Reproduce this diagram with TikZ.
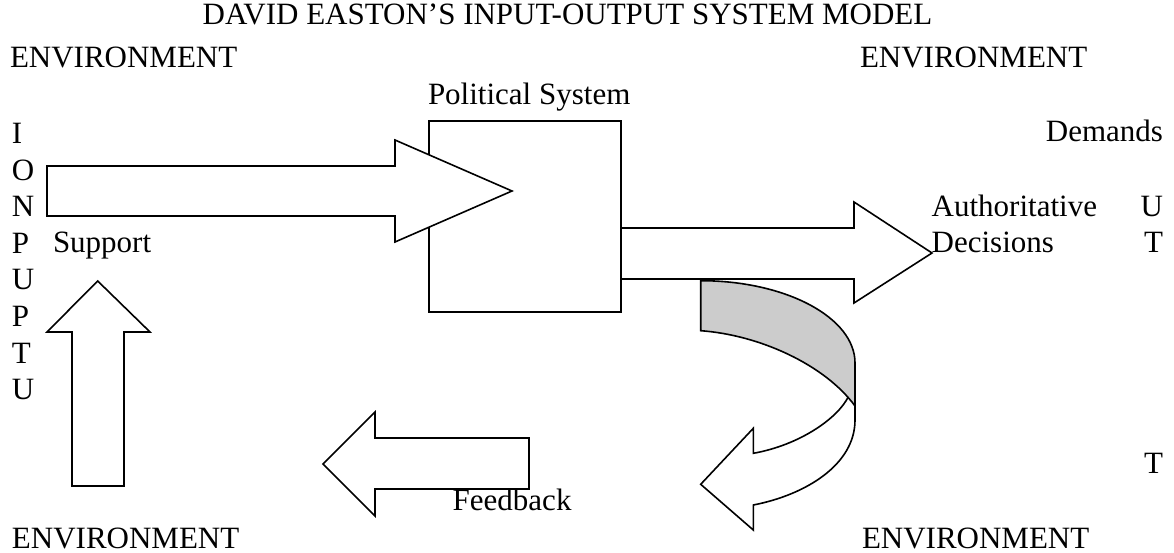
\documentclass[tikz,border=0pt]{standalone}
\usepackage{fontspec}
\setmainfont{Liberation Serif}
\begin{document}
\begin{tikzpicture}[x=1pt,y=-1pt,
  txt/.style={inner sep=0pt, outer sep=0pt, font=\fontsize{31}{36}\selectfont},
  blk/.style={draw=black, line width=1.6pt, fill=white, line join=miter},
  band/.style={draw=black, line width=1.6pt, fill=black!20},
]
\useasboundingbox (0,0) rectangle (1174,553);

% texts
\node[txt, anchor=base] (title) at (567.5,25) {DAVID EASTON’S INPUT-OUTPUT SYSTEM MODEL};
\node[txt, anchor=base west] (envTL) at (10,68) {ENVIRONMENT};
\node[txt, anchor=base west] (envTR) at (860,68) {ENVIRONMENT};
\node[txt, anchor=base west] (envBL) at (12,548) {ENVIRONMENT};
\node[txt, anchor=base west] (envBR) at (862,548) {ENVIRONMENT};
\node[txt, anchor=base west] (pol) at (428,105) {Political System};
\foreach \l [count=\i from 0] in {I,O,N,P,U,P,T,U}
  \node[txt, anchor=base west] (in\i) at (12,{143.5+36.6*\i}) {\l};
\node[txt, anchor=base west] (support) at (53,252) {Support};
\node[txt, anchor=base east] (demands) at (1163,141.7) {Demands};
\node[txt, anchor=base west] (auth) at (931.7,216.7) {Authoritative};
\node[txt, anchor=base west] (dec) at (931.7,252.7) {Decisions};
\node[txt, anchor=base east] (outU) at (1163,216.7) {U};
\node[txt, anchor=base east] (outT) at (1163,252.7) {T};
\node[txt, anchor=base east] (outT2) at (1163,473) {T};
\node[txt, anchor=base west] (feedback) at (452.7,510) {Feedback};

% political system box
\node[draw=black, line width=1.6pt, minimum width=192pt, minimum height=191pt, inner sep=0pt] (sys) at (525,216.5) {};

% input arrow
\draw[blk] (47,166) -- (395,166) -- (395,140) -- (512,191) -- (395,242) -- (395,216) -- (47,216) -- cycle;
% output arrow
\draw[blk] (621,228) -- (854,228) -- (854,202) -- (932,253) -- (854,303) -- (854,279) -- (621,279) -- cycle;
% support arrow (up)
\draw[blk] (72,486) -- (72,332) -- (47,332) -- (97.7,281) -- (150,332) -- (124,332) -- (124,486) -- cycle;
% feedback arrow (left)
\draw[blk] (529,438) -- (375,438) -- (375,412) -- (323,464) -- (375,516) -- (375,489) -- (529,489) -- cycle;

% curved arrow: lower white part
\draw[blk] (848.3,396.7) .. controls (838,418) and (800,445) .. (753.3,453.3)
  -- (753.3,428.3) -- (700.7,484.3) -- (753.3,530) -- (753.3,505)
  .. controls (805,495) and (855,465) .. (855,420) -- (855,395) -- cycle;
% curved arrow: gray band
\draw[band] (700.7,280.7) .. controls (785.9,280.7) and (855,317.6) .. (855,363)
  -- (855,406) .. controls (825,365) and (760,335) .. (700.7,330.7) -- cycle;
\end{tikzpicture}
\end{document}
